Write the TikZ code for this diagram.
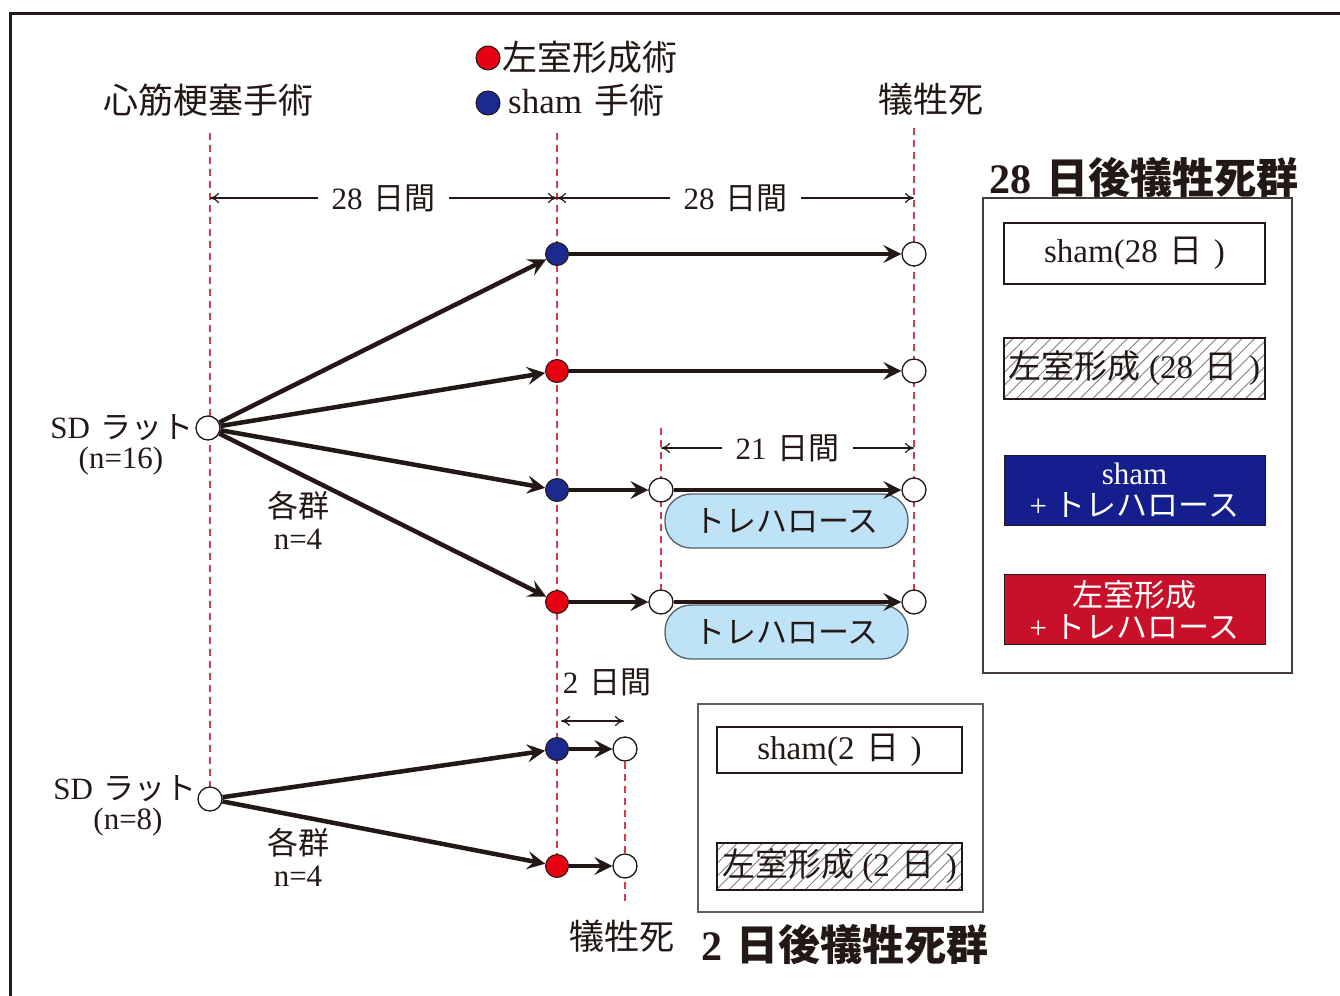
\documentclass[tikz,border=0pt]{standalone}
\usepackage{fontspec}
\setmainfont{Liberation Serif}
\newfontfamily\jp{Noto Sans CJK JP}
\usetikzlibrary{arrows.meta,patterns.meta}
\definecolor{ink}{HTML}{231815}
\definecolor{guide}{HTML}{D23A4E}
\definecolor{dotblue}{HTML}{1B2A8C}
\definecolor{dotred}{HTML}{E60012}
\definecolor{boxblue}{HTML}{141E8C}
\definecolor{boxred}{HTML}{C8102A}
\definecolor{pillfill}{HTML}{BFE3F6}
\definecolor{pillline}{HTML}{56606C}
\newcommand\gap{\hspace{0.35em}}
\begin{document}
\begin{tikzpicture}[x=1pt,y=-1pt,
  guideline/.style={guide, line width=1.4pt, dash pattern=on 7pt off 5pt},
  flow/.style={ink, line width=4.5pt, -{Stealth[length=18pt,width=18pt,inset=7pt]}},
  dim/.style={ink, line width=1.2pt, {To[length=9pt,width=10pt]}-{To[length=9pt,width=10pt]}},
  bluedot/.style={circle, draw=ink, line width=1pt, fill=dotblue, minimum size=23pt, inner sep=0pt},
  reddot/.style={circle, draw=ink, line width=1pt, fill=dotred, minimum size=23pt, inner sep=0pt},
  opendot/.style={circle, draw=ink, line width=1.3pt, fill=white, minimum size=24pt, inner sep=0pt},
  lbl/.style={text=ink, font=\fontsize{31}{32}\selectfont, inner sep=0pt},
  biglbl/.style={text=ink, font=\fontsize{35}{40}\selectfont, inner sep=0pt},
  titlelbl/.style={text=ink, font=\fontsize{42}{48}\selectfont\bfseries, inner sep=0pt},
  dimlbl/.style={lbl, fill=white, inner xsep=14pt, inner ysep=3pt},
  pillbox/.style={draw=pillline, line width=1.3pt, fill=pillfill, rounded corners=26pt,
    minimum width=243pt, minimum height=54pt, text=ink, font=\fontsize{31}{34}\selectfont},
  plainbox/.style={draw=ink, line width=1.6pt, fill=white, minimum width=261pt, text=ink,
    font=\fontsize{33}{36}\selectfont, inner sep=0pt},
  hatchbox/.style={draw=ink, line width=1.6pt, minimum width=261pt, text=ink,
    pattern={Lines[angle=45,distance=9pt,line width=0.9pt]}, pattern color=gray,
    font=\fontsize{33}{36}\selectfont, inner sep=0pt},
  colbox/.style={draw=ink, line width=1pt, minimum width=261pt, minimum height=70pt, text=white,
    align=center, font=\fontsize{31}{32}\selectfont, inner sep=0pt},
  legdot/.style={circle, draw=ink, line width=1pt, minimum size=24pt, inner sep=0pt}
]
\useasboundingbox (0,0) rectangle (1340,995);
\fill[white] (0,0) rectangle (1340,995);
% outer frame
\draw[ink, line width=3pt] (1345,14) -- (10,14) -- (10,1000);

% guide lines
\draw[guideline] (210,133) -- (210,787);
\draw[guideline] (557,133) -- (557,866);
\draw[guideline] (914,128) -- (914,592);
\draw[guideline] (661,428) -- (661,592);
\draw[guideline] (625,762) -- (625,906);

% top labels
\node[biglbl] (mi) at (208,100) {\jp 心筋梗塞手術};
\node[legdot, fill=dotred] (kred) at (488,58) {};
\node[biglbl, anchor=west] (klv) at (502,57) {\jp 左室形成術};
\node[legdot, fill=dotblue] (kblue) at (488,103) {};
\node[biglbl, anchor=west] (ksham) at (508,100) {sham\gap{\jp 手術}};
\node[biglbl] (sac) at (931,99) {\jp 犠牲死};

% dimension arrows
\coordinate (da1) at (210,198);
\coordinate (da2) at (557,198);
\coordinate (da3) at (914,198);
\draw[dim] (da1) -- (da2) node[midway, dimlbl] (d28a) {28\gap{\jp 日間}};
\draw[dim] (da2) -- (da3) node[midway, dimlbl] (d28b) {28\gap{\jp 日間}};
\coordinate (db1) at (661,448);
\coordinate (db2) at (914,448);
\draw[dim] (db1) -- (db2) node[midway, dimlbl] (d21) {21\gap{\jp 日間}};
\node[lbl] (d2l) at (607,682) {2\gap{\jp 日間}};
\coordinate (dc1) at (561,721);
\coordinate (dc2) at (624,721);
\draw[dim] (dc1) -- (dc2);

% 28-day part
\node[opendot] (sd1) at (208,428) {};
\node[lbl, anchor=east] (sd1l) at (194,428) {SD\gap{\jp ラット}};
\node[lbl] (sd1n) at (121,461) {(n=16)};
\node[lbl, align=center] (g1) at (298,520) {{\jp 各群}\\n=4};

\node[bluedot] (b1) at (557,254) {};
\node[reddot]  (b2) at (557,371) {};
\node[bluedot] (b3) at (557,490) {};
\node[reddot]  (b4) at (557,602) {};
\node[opendot] (e1) at (914,254) {};
\node[opendot] (e2) at (914,371) {};
\node[opendot] (e3) at (914,490) {};
\node[opendot] (e4) at (914,602) {};
\node[opendot] (m3) at (661,490) {};
\node[opendot] (m4) at (661,602) {};

\node[pillbox] (t1) at (786.5,521) {\jp トレハロース};
\node[pillbox] (t2) at (786.5,632) {\jp トレハロース};

\draw[flow] (sd1) -- (b1);
\draw[flow] (sd1) -- (b2);
\draw[flow] (sd1) -- (b3);
\draw[flow] (sd1) -- (b4);
\draw[flow] (b1) -- (e1);
\draw[flow] (b2) -- (e2);
\draw[flow] (b3) -- (m3);
\draw[flow] (m3) -- (e3);
\draw[flow] (b4) -- (m4);
\draw[flow] (m4) -- (e4);

% 2-day part
\node[opendot] (sd2) at (210,799) {};
\node[lbl, anchor=east] (sd2l) at (197,789) {SD\gap{\jp ラット}};
\node[lbl] (sd2n) at (128,822) {(n=8)};
\node[lbl, align=center] (g2) at (298,857) {{\jp 各群}\\n=4};
\node[bluedot] (c1) at (557,749) {};
\node[reddot]  (c2) at (557,866) {};
\node[opendot] (f1) at (625,749) {};
\node[opendot] (f2) at (625,866) {};
\draw[flow] (sd2) -- (c1);
\draw[flow] (sd2) -- (c2);
\draw[flow] (c1) -- (f1);
\draw[flow] (c2) -- (f2);
\node[biglbl] (sac2) at (622,936) {\jp 犠牲死};

% 28-day legend
\node[titlelbl] (t28) at (1144,178) {28\gap{\jp\bfseries 日後犠牲死群}};
\draw[ink!85, line width=1.8pt] (983,198) rectangle (1292,673);
\node[plainbox, minimum height=61pt] (s28) at (1134.5,253.5) {sham(28\gap{\jp 日}\gap)};
\node[hatchbox, minimum height=61pt] (l28) at (1134.5,368.5) {{\jp 左室形成} (28\gap{\jp 日}\gap)};
\node[colbox, fill=boxblue] (st28) at (1134.5,490) {sham\\+ {\jp トレハロース}};
\node[colbox, fill=boxred] (lt28) at (1134.5,609.5) {{\jp 左室形成}\\+ {\jp トレハロース}};

% 2-day legend
\draw[ink!70, line width=1.5pt] (698,704) rectangle (983,912);
\node[plainbox, minimum width=245pt, minimum height=46pt] (s2) at (839.5,750) {sham(2\gap{\jp 日}\gap)};
\node[hatchbox, minimum width=245pt, minimum height=47pt] (l2) at (839.5,866.5) {{\jp 左室形成} (2\gap{\jp 日}\gap)};
\node[titlelbl] (t2d) at (845,945) {2\gap{\jp\bfseries 日後犠牲死群}};
\end{tikzpicture}
\end{document}
